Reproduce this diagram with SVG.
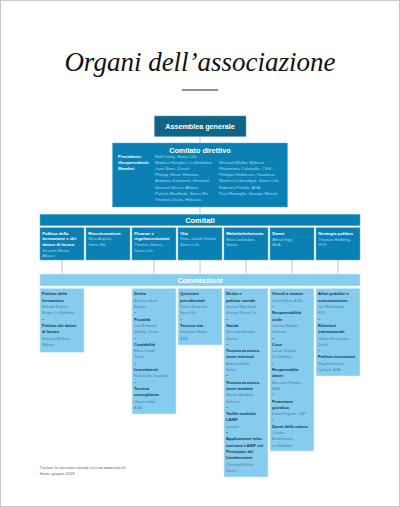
<svg xmlns="http://www.w3.org/2000/svg" width="400" height="507" viewBox="0 0 400 507">
<style>
.dk{fill:#0f6587;stroke:#5c9ab3;stroke-width:0.5}
.md{fill:#0b80b5;stroke:#5fb0d6;stroke-width:0.5}
.lt{fill:#86ccef;stroke:#d4eefb;stroke-width:0.6}
.hd{font-family:"Liberation Sans",Arial,sans-serif;font-weight:bold;fill:#ffffff;text-anchor:middle}
.lb{font-family:"Liberation Sans",Arial,sans-serif;font-weight:bold;fill:#ffffff;font-size:4.4px}
.nm{font-family:"Liberation Sans",Arial,sans-serif;fill:#a9d9f0;font-size:4.4px}
.ct{font-family:"Liberation Sans",Arial,sans-serif;font-weight:bold;fill:#ffffff;font-size:4.3px}
.cn{font-family:"Liberation Sans",Arial,sans-serif;fill:#a9d9f0;font-size:4.2px}
.b{font-family:"Liberation Sans",Arial,sans-serif;font-weight:bold;fill:#15354d;font-size:4.1px}
.n{font-family:"Liberation Sans",Arial,sans-serif;fill:#4c7fa3;font-size:3.7px}
.con{stroke:#c6c6c6;stroke-width:1;fill:none}
</style>
<rect x="0.5" y="0.5" width="399" height="506" fill="#ffffff" stroke="#c8c8c8" stroke-width="1"/>
<g id="title">
<text x="200" y="71" text-anchor="middle" font-family="'Liberation Serif','Times New Roman',serif" font-style="italic" font-size="27" fill="#111111">Organi dell’associazione</text>
<line x1="182" y1="90" x2="218" y2="90" stroke="#222222" stroke-width="1"/>
</g>
<g id="connectors">
<line class="con" x1="200" y1="136.5" x2="200" y2="143"/>
<line class="con" x1="200" y1="207" x2="200" y2="214.3"/>
<line class="con" x1="62" y1="260" x2="62" y2="274"/>
<line class="con" x1="154" y1="260" x2="154" y2="274"/>
<line class="con" x1="200" y1="260" x2="200" y2="274"/>
<line class="con" x1="246" y1="260" x2="246" y2="274"/>
<line class="con" x1="292" y1="260" x2="292" y2="274"/>
<line class="con" x1="338" y1="260" x2="338" y2="274"/>
</g>
<g id="assemblea-generale">
<rect class="dk" x="154.5" y="116" width="91.5" height="20.5"/>
<text class="hd" x="200" y="129.1" font-size="7.2">Assemblea generale</text>
</g>
<g id="comitato-direttivo">
<rect class="md" x="112.5" y="143" width="175" height="64"/>
<text class="hd" x="200" y="152.8" font-size="7.2">Comitato direttivo</text>
<text class="lb" x="118" y="157.6">Presidente:</text>
<text class="lb" x="118" y="163.8">Vicepresidenti:</text>
<text class="lb" x="118" y="170">Membri:</text>
<text class="nm" x="155" y="157.6">Rolf Dörig, Swiss Life<tspan x="155" dy="6.2">Markus Hongler, La Mobilière</tspan><tspan x="155" dy="6.2">Juan Beer, Zurich</tspan><tspan x="155" dy="6.2">Philipp Gmür, Helvetia</tspan><tspan x="155" dy="6.2">Andreas Krümmel, Generali</tspan><tspan x="155" dy="6.2">Severin Moser, Allianz</tspan><tspan x="155" dy="6.2">Patrick Raaflaub, Swiss Re</tspan><tspan x="155" dy="6.2">Thomas Zavis, Helsana</tspan></text>
<text class="nm" x="219" y="163.8">Michael Müller, Bâloise<tspan x="219" dy="6.2">Philomena Colatrella, CSS</tspan><tspan x="219" dy="6.2">Philippe Hebeisen, Vaudoise</tspan><tspan x="219" dy="6.2">Markus Leibundgut, Swiss Life</tspan><tspan x="219" dy="6.2">Fabrizio Petrillo, AXA</tspan><tspan x="219" dy="6.2">Paul Rozeglio, Groupe Mutuel</tspan></text>
</g>
<g id="comitati">
<rect class="md" x="40" y="214.3" width="320" height="11.4"/>
<text class="hd" x="200" y="222.8" font-size="7.4">Comitati</text>
</g>
<g id="comitato-formazione">
<rect class="md" x="40" y="227.7" width="44" height="32.3"/>
<text class="ct" x="42.2" y="234.8">Politica della<tspan x="42.2" dy="5.6">formazione e del</tspan><tspan x="42.2" dy="5.6">datore di lavoro</tspan></text>
<text class="cn" x="42.2" y="251.6">Severin Moser,<tspan x="42.2" dy="5.6">Allianz</tspan></text>
</g>
<g id="comitato-riassicurazione">
<rect class="md" x="86" y="227.7" width="44" height="32.3"/>
<text class="ct" x="88.2" y="234.8">Riassicurazione</text>
<text class="cn" x="88.2" y="240.4">Nina Arquint,<tspan x="88.2" dy="5.6">Swiss Re</tspan></text>
</g>
<g id="comitato-finanze">
<rect class="md" x="132" y="227.7" width="44" height="32.3"/>
<text class="ct" x="134.2" y="234.8">Finanze e<tspan x="134.2" dy="5.6">regolamentazioni</tspan></text>
<text class="cn" x="134.2" y="246">Thomas Buess,<tspan x="134.2" dy="5.6">Swiss Life</tspan></text>
</g>
<g id="comitato-vita">
<rect class="md" x="178" y="227.7" width="44" height="32.3"/>
<text class="ct" x="180.2" y="234.8">Vita</text>
<text class="cn" x="180.2" y="240.4">Hans-Jakob Stahel,<tspan x="180.2" dy="5.6">Swiss Life</tspan></text>
</g>
<g id="comitato-malattia">
<rect class="md" x="224" y="227.7" width="44" height="32.3"/>
<text class="ct" x="226.2" y="234.8">Malattia/infortunio</text>
<text class="cn" x="226.2" y="240.6">Reto Dahinden,<tspan x="226.2" dy="5.8">Swica</tspan></text>
</g>
<g id="comitato-danni">
<rect class="md" x="270" y="227.7" width="44" height="32.3"/>
<text class="ct" x="272.2" y="234.8">Danni</text>
<text class="cn" x="272.2" y="240.6">Alfred Egg,<tspan x="272.2" dy="5.8">AXA</tspan></text>
</g>
<g id="comitato-strategia">
<rect class="md" x="316" y="227.7" width="44" height="32.3"/>
<text class="ct" x="318.2" y="234.8">Strategia politica</text>
<text class="cn" x="318.2" y="240.6">Thomas Helbling,<tspan x="318.2" dy="5.8">SVV</tspan></text>
</g>
<g id="commissioni">
<rect class="lt" x="40" y="274" width="320" height="12"/>
<text class="hd" x="200" y="282.6" font-size="7.2">Commissioni</text>
</g>
<g id="commissioni-formazione">
<rect class="lt" x="40" y="288.3" width="44" height="64"/>
<text x="42" y="295.4"><tspan class="b" x="42">Politica della</tspan><tspan class="b" x="42" dy="6.3">formazione</tspan><tspan class="n" x="42" dy="6.3">Belinda Walther</tspan><tspan class="n" x="42" dy="6.3">Weger, La Mobilière</tspan><tspan class="b" x="42" dy="6.3">–</tspan><tspan class="b" x="42" dy="6.3">Politica dei datori</tspan><tspan class="b" x="42" dy="6.3">di lavoro</tspan><tspan class="n" x="42" dy="6.3">Stephan Walliser,</tspan><tspan class="n" x="42" dy="6.3">Bâloise</tspan></text>
</g>
<g id="commissioni-finanze">
<rect class="lt" x="132" y="288.3" width="44" height="125.7"/>
<text x="134" y="295.4"><tspan class="b" x="134">Diritto</tspan><tspan class="n" x="134" dy="6.3">Andreas Burki,</tspan><tspan class="n" x="134" dy="6.3">Bâloise</tspan><tspan class="b" x="134" dy="6.3">–</tspan><tspan class="b" x="134" dy="6.3">Fiscalità</tspan><tspan class="n" x="134" dy="6.3">Carl Bremmel</tspan><tspan class="n" x="134" dy="6.3">Schillig, Zurich</tspan><tspan class="b" x="134" dy="6.3">–</tspan><tspan class="b" x="134" dy="6.3">Contabilità</tspan><tspan class="n" x="134" dy="6.3">Elena Kandil,</tspan><tspan class="n" x="134" dy="6.3">Zurich</tspan><tspan class="b" x="134" dy="6.3">–</tspan><tspan class="b" x="134" dy="6.3">Investimenti</tspan><tspan class="n" x="134" dy="6.3">Reto Kuhn, Vaudoise</tspan><tspan class="b" x="134" dy="6.3">–</tspan><tspan class="b" x="134" dy="6.3">Tecnica</tspan><tspan class="b" x="134" dy="6.3">sorveglianza</tspan><tspan class="n" x="134" dy="6.3">Olivier Kalny,</tspan><tspan class="n" x="134" dy="6.3">AXA</tspan></text>
</g>
<g id="commissioni-vita">
<rect class="lt" x="178" y="288.3" width="44" height="56.7"/>
<text x="180" y="295.4"><tspan class="b" x="180">Questioni</tspan><tspan class="b" x="180" dy="6.3">previdenziali</tspan><tspan class="n" x="180" dy="6.3">Patrick Barbisan,</tspan><tspan class="n" x="180" dy="6.3">Swiss Re</tspan><tspan class="b" x="180" dy="6.3">–</tspan><tspan class="b" x="180" dy="6.3">Tecnica vita</tspan><tspan class="n" x="180" dy="6.3">Stéphane Moine,</tspan><tspan class="n" x="180" dy="6.3">AXA</tspan></text>
</g>
<g id="commissioni-malattia">
<rect class="lt" x="224" y="288.3" width="44" height="188.7"/>
<text x="226" y="295.4"><tspan class="b" x="226">Diritto e</tspan><tspan class="b" x="226" dy="6.3">politica sociale</tspan><tspan class="n" x="226" dy="6.3">Sascha Wyssbrod,</tspan><tspan class="n" x="226" dy="6.3">Groupe Mutuel Vie</tspan><tspan class="b" x="226" dy="6.3">–</tspan><tspan class="b" x="226" dy="6.3">Sanità</tspan><tspan class="n" x="226" dy="6.3">Riccardo Schaller,</tspan><tspan class="n" x="226" dy="6.3">Sanitas</tspan><tspan class="b" x="226" dy="6.3">–</tspan><tspan class="b" x="226" dy="6.3">Tecnica assicura-</tspan><tspan class="b" x="226" dy="6.3">zione infortuni</tspan><tspan class="n" x="226" dy="6.3">Andreas Hofer,</tspan><tspan class="n" x="226" dy="6.3">Swica</tspan><tspan class="b" x="226" dy="6.3">–</tspan><tspan class="b" x="226" dy="6.3">Tecnica assicura-</tspan><tspan class="b" x="226" dy="6.3">zione malattie</tspan><tspan class="n" x="226" dy="6.3">Monika Buholzer,</tspan><tspan class="n" x="226" dy="6.3">Helsana</tspan><tspan class="b" x="226" dy="6.3">–</tspan><tspan class="b" x="226" dy="6.3">Tariffe mediche</tspan><tspan class="b" x="226" dy="6.3">LAINF</tspan><tspan class="n" x="226" dy="6.3">vacante</tspan><tspan class="b" x="226" dy="6.3">–</tspan><tspan class="b" x="226" dy="6.3">Applicazione infor-</tspan><tspan class="b" x="226" dy="6.3">tunistica LAINF nel</tspan><tspan class="b" x="226" dy="6.3">Principato del</tspan><tspan class="b" x="226" dy="6.3">Liechtenstein</tspan><tspan class="n" x="226" dy="6.3">Christoph Bühler,</tspan><tspan class="n" x="226" dy="6.3">Zurich</tspan></text>
</g>
<g id="commissioni-danni">
<rect class="lt" x="270" y="288.3" width="44" height="162.7"/>
<text x="272" y="295.4"><tspan class="b" x="272">Veicoli a motore</tspan><tspan class="n" x="272" dy="6.3">Daniel Meier, AXA</tspan><tspan class="b" x="272" dy="6.3">–</tspan><tspan class="b" x="272" dy="6.3">Responsabilità</tspan><tspan class="b" x="272" dy="6.3">civile</tspan><tspan class="n" x="272" dy="6.3">Lorenzo Nickels,</tspan><tspan class="n" x="272" dy="6.3">Generali</tspan><tspan class="b" x="272" dy="6.3">–</tspan><tspan class="b" x="272" dy="6.3">Cose</tspan><tspan class="n" x="272" dy="6.3">Laszlo Scheda,</tspan><tspan class="n" x="272" dy="6.3">Die Mobiliar</tspan><tspan class="b" x="272" dy="6.3">–</tspan><tspan class="b" x="272" dy="6.3">Responsabile</tspan><tspan class="b" x="272" dy="6.3">danni</tspan><tspan class="n" x="272" dy="6.3">Massimo Pergolo,</tspan><tspan class="n" x="272" dy="6.3">AXA</tspan><tspan class="b" x="272" dy="6.3">–</tspan><tspan class="b" x="272" dy="6.3">Protezione</tspan><tspan class="b" x="272" dy="6.3">giuridica</tspan><tspan class="n" x="272" dy="6.3">Daniel Eugster, CAP</tspan><tspan class="b" x="272" dy="6.3">–</tspan><tspan class="b" x="272" dy="6.3">Danni della natura</tspan><tspan class="n" x="272" dy="6.3">Claudia</tspan><tspan class="n" x="272" dy="6.3">Bruderlmann,</tspan><tspan class="n" x="272" dy="6.3">La Mobilière</tspan></text>
</g>
<g id="commissioni-strategia">
<rect class="lt" x="316" y="288.3" width="44" height="87.7"/>
<text x="318" y="295.4"><tspan class="b" x="318">Affari pubblici e</tspan><tspan class="b" x="318" dy="6.3">comunicazione</tspan><tspan class="n" x="318" dy="6.3">Jan Mühlethaler,</tspan><tspan class="n" x="318" dy="6.3">SVV</tspan><tspan class="b" x="318" dy="6.3">–</tspan><tspan class="b" x="318" dy="6.3">Relazioni</tspan><tspan class="b" x="318" dy="6.3">internazionali</tspan><tspan class="n" x="318" dy="6.3">Tilman Hengevoss,</tspan><tspan class="n" x="318" dy="6.3">Zurich</tspan><tspan class="b" x="318" dy="6.3">–</tspan><tspan class="b" x="318" dy="6.3">Politica economica</tspan><tspan class="n" x="318" dy="6.3">Regula Scherrer</tspan><tspan class="n" x="318" dy="6.3">Luthiger, AXA</tspan></text>
</g>
<g id="footer">
<text x="39.5" y="469.4" font-family="'Liberation Sans',Arial,sans-serif" font-size="4.2" fill="#666666">Trovate la versione attuale sul sito <tspan fill="#1f4fa0">www.svv.ch</tspan></text>
<text x="39.5" y="475.4" font-family="'Liberation Sans',Arial,sans-serif" font-size="4.2" fill="#666666">Stato: giugno 2019</text>
</g>
</svg>
